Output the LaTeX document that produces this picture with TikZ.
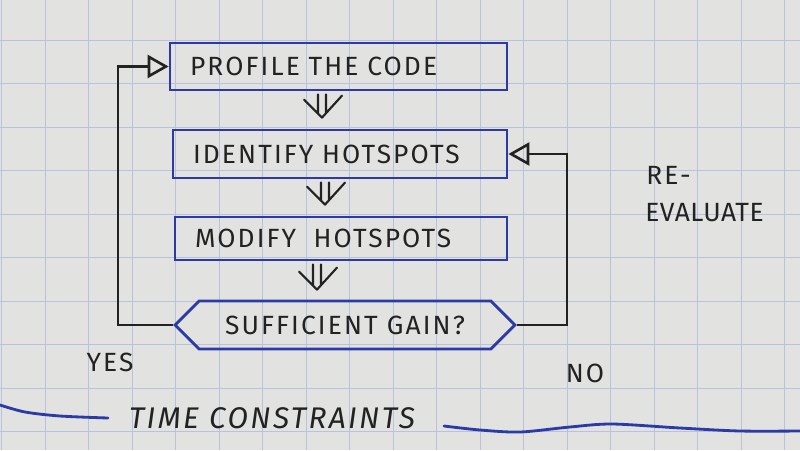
\documentclass[tikz,border=0pt]{standalone}
\usepackage{fontspec}
\setmainfont{Fira Sans}
\usetikzlibrary{arrows.meta,shapes.symbols,calc}
\definecolor{paper}{HTML}{E2E2E0}
\definecolor{gridc}{HTML}{BAC1DC}
\definecolor{bink}{HTML}{2B3AA6}
\definecolor{kink}{HTML}{222222}
\begin{document}
\begin{tikzpicture}[x=0.02cm,y=-0.02cm,
  handfont/.style={font=\fontsize{15}{18}\selectfont\addfontfeatures{LetterSpace=8}},
  stepbox/.style={draw=bink, line width=1.6pt, rectangle, inner xsep=0.4cm, inner ysep=0pt,
    align=left, text=kink, handfont},
  decbox/.style={draw=bink, line width=1.6pt, signal, signal to=west and east,
    signal pointer angle=90, text=kink, handfont, inner sep=0pt},
  lbl/.style={text=kink, handfont, inner sep=0pt},
  flowarrow/.style={draw=kink, line width=1.2pt, line join=round, line cap=round,
    to path={
      ($(\tikztostart)+(-0.08cm,-0.06cm)$) -- ($(\tikztotarget)+(-0.08cm,0.1cm)$)
      ($(\tikztostart)+(0.08cm,-0.06cm)$) -- ($(\tikztotarget)+(0.08cm,0.1cm)$)
      ($(\tikztotarget)+(-0.36cm,0.38cm)$) -- ($(\tikztotarget)+(0,0.02cm)$) -- ($(\tikztotarget)+(0.4cm,0.46cm)$)
    }},
  loopline/.style={draw=kink, line width=1.3pt,
    -{Triangle[open, length=0.42cm, width=0.46cm, line width=1.5pt]}},
  blueline/.style={draw=bink, line width=1.6pt, line cap=round}
]
% paper and grid
\fill[paper] (0,0) rectangle (800,450);
\useasboundingbox (0,0) rectangle (800,450);
\foreach \k in {0,...,18} {
  \draw[gridc, line width=0.45pt] ({1.5+43.5*\k},0) -- ({1.5+43.5*\k},450);
}
\foreach \k in {0,...,9} {
  \draw[gridc, line width=0.45pt] (0,{40+43.5*\k}) -- (800,{40+43.5*\k});
}

% boxes
\node[stepbox, text width=5.94cm, minimum height=0.94cm] (prof) at (338.5,66.5) {PROFILE THE CODE};
\node[stepbox, text width=5.88cm, minimum height=0.96cm] (ident) at (340,154) {IDENTIFY HOTSPOTS};
\node[stepbox, text width=5.84cm, minimum height=0.86cm] (modif) at (341,238.5) {MODIFY \ HOTSPOTS};
\node[decbox, minimum width=6.8cm, minimum height=0.96cm] (dec) at (345,325) {SUFFICIENT GAIN?};

% flow arrows
\draw[flowarrow] ([xshift=-0.33cm]prof.south) to ([xshift=-0.36cm,yshift=0.2cm]ident.north);
\draw[flowarrow] ([xshift=-0.3cm]ident.south) to ([xshift=-0.32cm,yshift=0.2cm]modif.north);
\draw[flowarrow] ([xshift=-0.48cm]modif.south) to ([xshift=-0.56cm,yshift=0.18cm]dec.north);

% loops
\coordinate (yl) at (118,200);
\coordinate (nl) at (567,240);
\draw[loopline] (dec.west) -| (yl) |- (prof.west);
\draw[loopline] (dec.east) -| (nl) |- (ident.east);

% labels
\node[lbl] (yes) at (110,362) {YES};
\node[lbl] (no) at (585,373) {NO};
\node[lbl, anchor=west] (re) at (646,175) {RE-};
\node[lbl, anchor=west, font=\fontsize{15}{18}\selectfont\addfontfeatures{LetterSpace=2}] (eval) at (645,213) {EVALUATE};
\node[lbl, font=\fontsize{17}{20}\selectfont\itshape\addfontfeatures{LetterSpace=8}] (time) at (272,418) {TIME CONSTRAINTS};

% time constraint lines
\draw[blueline] plot[smooth] coordinates {(0,405) (25,412) (60,416) (108,418)};
\draw[blueline] plot[smooth] coordinates {(444,426) (480,430) (520,432) (570,427) (612,424) (680,428) (740,431) (800,431)};
\end{tikzpicture}
\end{document}
